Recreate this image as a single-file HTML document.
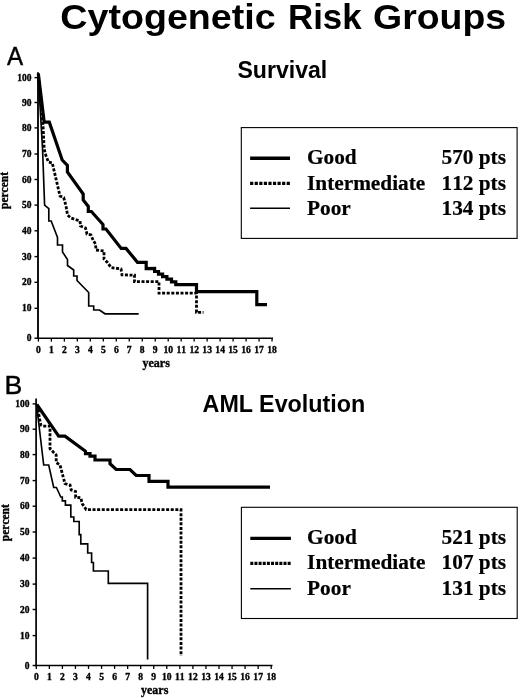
<!DOCTYPE html>
<html><head><meta charset="utf-8">
<style>
html,body{margin:0;padding:0;background:#fff;}
body{width:520px;height:698px;overflow:hidden;position:relative;}
svg{position:absolute;left:0;top:0;will-change:transform;}
.sb{font-family:"Liberation Sans",sans-serif;font-weight:bold;fill:#000;}
.s{font-family:"Liberation Sans",sans-serif;fill:#000;}
.tb{font-family:"Liberation Serif",serif;font-weight:bold;fill:#000;font-kerning:none;}
.lg{stroke:#000;stroke-width:0.2px;}
.tk{stroke:#000;stroke-width:0.35px;}
</style></head><body>
<svg width="520" height="698" viewBox="0 0 520 698">
<rect width="520" height="698" fill="#fff"/>
<text id="t1a" class="sb" transform="translate(60.3,28.6) scale(1.097,1)" font-size="34.3">Cytogenetic</text>
<text id="t1b" class="sb" transform="translate(288.0,28.6) scale(1.016,1)" font-size="34.3">Risk</text>
<text id="t1c" class="sb" transform="translate(373.0,28.6) scale(1.092,1)" font-size="34.3">Groups</text>
<text id="t2" class="sb" x="237.4" y="78.4" font-size="23.1">Survival</text>
<text id="t3" class="sb" x="202.6" y="411.6" font-size="23.3">AML Evolution</text>
<text id="la" class="s" transform="translate(6.9,64.8) scale(0.96,1)" font-size="25.2" stroke="#000" stroke-width="0.4">A</text>
<text id="lb" class="s" transform="translate(4.6,393.8) scale(1.06,1)" font-size="25.2" stroke="#000" stroke-width="0.4">B</text>
<!-- chart A -->
<line x1="38.0" y1="72.3" x2="38.0" y2="338.9" stroke="#000" stroke-width="1.85"/>
<line x1="37.3" y1="338.2" x2="273.0" y2="338.2" stroke="#000" stroke-width="1.4"/>
<line x1="34.5" y1="77.6" x2="38.0" y2="77.6" stroke="#000" stroke-width="1.4"/>
<text class="tb tk" transform="translate(31.4,80.6) scale(0.99,1)" font-size="9.6" text-anchor="end">100</text>
<line x1="34.5" y1="102.5" x2="38.0" y2="102.5" stroke="#000" stroke-width="1.4"/>
<text class="tb tk" transform="translate(31.4,105.5) scale(0.99,1)" font-size="9.6" text-anchor="end">90</text>
<line x1="34.5" y1="127.9" x2="38.0" y2="127.9" stroke="#000" stroke-width="1.4"/>
<text class="tb tk" transform="translate(31.4,130.9) scale(0.99,1)" font-size="9.6" text-anchor="end">80</text>
<line x1="34.5" y1="154.0" x2="38.0" y2="154.0" stroke="#000" stroke-width="1.4"/>
<text class="tb tk" transform="translate(31.4,157.0) scale(0.99,1)" font-size="9.6" text-anchor="end">70</text>
<line x1="34.5" y1="179.5" x2="38.0" y2="179.5" stroke="#000" stroke-width="1.4"/>
<text class="tb tk" transform="translate(31.4,182.5) scale(0.99,1)" font-size="9.6" text-anchor="end">60</text>
<line x1="34.5" y1="205.1" x2="38.0" y2="205.1" stroke="#000" stroke-width="1.4"/>
<text class="tb tk" transform="translate(31.4,208.1) scale(0.99,1)" font-size="9.6" text-anchor="end">50</text>
<line x1="34.5" y1="230.8" x2="38.0" y2="230.8" stroke="#000" stroke-width="1.4"/>
<text class="tb tk" transform="translate(31.4,233.8) scale(0.99,1)" font-size="9.6" text-anchor="end">40</text>
<line x1="34.5" y1="256.6" x2="38.0" y2="256.6" stroke="#000" stroke-width="1.4"/>
<text class="tb tk" transform="translate(31.4,259.6) scale(0.99,1)" font-size="9.6" text-anchor="end">30</text>
<line x1="34.5" y1="282.3" x2="38.0" y2="282.3" stroke="#000" stroke-width="1.4"/>
<text class="tb tk" transform="translate(31.4,285.3) scale(0.99,1)" font-size="9.6" text-anchor="end">20</text>
<line x1="34.5" y1="308.3" x2="38.0" y2="308.3" stroke="#000" stroke-width="1.4"/>
<text class="tb tk" transform="translate(31.4,311.3) scale(0.99,1)" font-size="9.6" text-anchor="end">10</text>
<line x1="34.5" y1="338.2" x2="38.0" y2="338.2" stroke="#000" stroke-width="1.4"/>
<text class="tb tk" transform="translate(31.4,341.2) scale(0.99,1)" font-size="9.6" text-anchor="end">0</text>
<line x1="38.40" y1="338.2" x2="38.40" y2="341.59999999999997" stroke="#000" stroke-width="1.3"/>
<text class="tb tk" transform="translate(38.40,352.5) scale(1.02,1)" font-size="9.4" text-anchor="middle">0</text>
<line x1="51.38" y1="338.2" x2="51.38" y2="341.59999999999997" stroke="#000" stroke-width="1.3"/>
<text class="tb tk" transform="translate(51.38,352.5) scale(1.02,1)" font-size="9.4" text-anchor="middle">1</text>
<line x1="64.36" y1="338.2" x2="64.36" y2="341.59999999999997" stroke="#000" stroke-width="1.3"/>
<text class="tb tk" transform="translate(64.36,352.5) scale(1.02,1)" font-size="9.4" text-anchor="middle">2</text>
<line x1="77.34" y1="338.2" x2="77.34" y2="341.59999999999997" stroke="#000" stroke-width="1.3"/>
<text class="tb tk" transform="translate(77.34,352.5) scale(1.02,1)" font-size="9.4" text-anchor="middle">3</text>
<line x1="90.32" y1="338.2" x2="90.32" y2="341.59999999999997" stroke="#000" stroke-width="1.3"/>
<text class="tb tk" transform="translate(90.32,352.5) scale(1.02,1)" font-size="9.4" text-anchor="middle">4</text>
<line x1="103.30" y1="338.2" x2="103.30" y2="341.59999999999997" stroke="#000" stroke-width="1.3"/>
<text class="tb tk" transform="translate(103.30,352.5) scale(1.02,1)" font-size="9.4" text-anchor="middle">5</text>
<line x1="116.28" y1="338.2" x2="116.28" y2="341.59999999999997" stroke="#000" stroke-width="1.3"/>
<text class="tb tk" transform="translate(116.28,352.5) scale(1.02,1)" font-size="9.4" text-anchor="middle">6</text>
<line x1="129.26" y1="338.2" x2="129.26" y2="341.59999999999997" stroke="#000" stroke-width="1.3"/>
<text class="tb tk" transform="translate(129.26,352.5) scale(1.02,1)" font-size="9.4" text-anchor="middle">7</text>
<line x1="142.24" y1="338.2" x2="142.24" y2="341.59999999999997" stroke="#000" stroke-width="1.3"/>
<text class="tb tk" transform="translate(142.24,352.5) scale(1.02,1)" font-size="9.4" text-anchor="middle">8</text>
<line x1="155.22" y1="338.2" x2="155.22" y2="341.59999999999997" stroke="#000" stroke-width="1.3"/>
<text class="tb tk" transform="translate(155.22,352.5) scale(1.02,1)" font-size="9.4" text-anchor="middle">9</text>
<line x1="168.20" y1="338.2" x2="168.20" y2="341.59999999999997" stroke="#000" stroke-width="1.3"/>
<text class="tb tk" transform="translate(168.20,352.5) scale(1.02,1)" font-size="9.4" text-anchor="middle">10</text>
<line x1="181.18" y1="338.2" x2="181.18" y2="341.59999999999997" stroke="#000" stroke-width="1.3"/>
<text class="tb tk" transform="translate(181.18,352.5) scale(1.02,1)" font-size="9.4" text-anchor="middle">11</text>
<line x1="194.16" y1="338.2" x2="194.16" y2="341.59999999999997" stroke="#000" stroke-width="1.3"/>
<text class="tb tk" transform="translate(194.16,352.5) scale(1.02,1)" font-size="9.4" text-anchor="middle">12</text>
<line x1="207.14" y1="338.2" x2="207.14" y2="341.59999999999997" stroke="#000" stroke-width="1.3"/>
<text class="tb tk" transform="translate(207.14,352.5) scale(1.02,1)" font-size="9.4" text-anchor="middle">13</text>
<line x1="220.12" y1="338.2" x2="220.12" y2="341.59999999999997" stroke="#000" stroke-width="1.3"/>
<text class="tb tk" transform="translate(220.12,352.5) scale(1.02,1)" font-size="9.4" text-anchor="middle">14</text>
<line x1="233.10" y1="338.2" x2="233.10" y2="341.59999999999997" stroke="#000" stroke-width="1.3"/>
<text class="tb tk" transform="translate(233.10,352.5) scale(1.02,1)" font-size="9.4" text-anchor="middle">15</text>
<line x1="246.08" y1="338.2" x2="246.08" y2="341.59999999999997" stroke="#000" stroke-width="1.3"/>
<text class="tb tk" transform="translate(246.08,352.5) scale(1.02,1)" font-size="9.4" text-anchor="middle">16</text>
<line x1="259.06" y1="338.2" x2="259.06" y2="341.59999999999997" stroke="#000" stroke-width="1.3"/>
<text class="tb tk" transform="translate(259.06,352.5) scale(1.02,1)" font-size="9.4" text-anchor="middle">17</text>
<line x1="272.04" y1="338.2" x2="272.04" y2="341.59999999999997" stroke="#000" stroke-width="1.3"/>
<text class="tb tk" transform="translate(272.04,352.5) scale(1.02,1)" font-size="9.4" text-anchor="middle">18</text>
<text id="ayl" class="tb tk" font-size="11.5" text-anchor="middle" transform="translate(8.2,190.5) rotate(-90)">percent</text>
<text id="axl" class="tb tk" font-size="12" x="142.5" y="366.5">years</text>
<polyline points="38.2,74 42.6,150 44.6,205 48.8,208.7 48.8,221 51.2,221 57.5,237.5 57.5,245 62.5,245 62.5,252 67.5,259.5 67.5,265.5 73.7,270 73.7,276 77,276 77,280.5 88.7,292.5 88.7,306 93.7,306 93.7,310 99.5,310 105,313.8 138.7,313.8" fill="none" stroke="#000" stroke-width="1.65" stroke-linejoin="miter"/>
<polyline points="38.5,76 43.0,125 44.2,149 45.2,153.5 48.4,162 52.3,162.9 53.7,169 60,196 63.7,197.5 66,206 67.5,215 71,218 80,221 80.5,226 85.5,228 87,234 91,235 93,240 95.5,244 96,250 104,251 104,259 107.5,262.5 111,267.5 121,269 122,274.8 134.5,275.2 134.5,281.6 159,281.6 159,293.2 196.5,293.2 196.5,312.4 203.5,312.4" fill="none" stroke="#000" stroke-width="2.8" stroke-dasharray="3.0 1.6" stroke-linejoin="miter"/>
<polyline points="38.3,73.5 44.2,122.2 49.3,122.2 62.2,160 67.4,165.5 67.4,172 83.2,194 83.2,200 88.3,206.4 88.3,211.5 91.4,211.5 103,224.5 103,229 106,229 121.2,248.4 126,248.4 137.5,262.3 146.2,262.3 146.2,268.7 154.6,268.5 154.6,271.5 158.5,271.5 158.5,274.2 162.6,274.2 162.6,276.6 166.9,276.6 166.9,279.2 171.5,279.2 171.5,281.8 175.8,281.8 175.8,284.6 196.5,284.6 196.5,291.7 256.8,291.7 256.8,304.6 267,304.6" fill="none" stroke="#000" stroke-width="3.2" stroke-linejoin="miter"/>
<rect x="241.3" y="127.6" width="275.8" height="110.8" fill="#fff" stroke="#000" stroke-width="1.1"/>
<line x1="250.1" y1="158.3" x2="290.0" y2="158.3" stroke="#000" stroke-width="3.4"/>
<text id="al0" class="tb lg" font-size="21.3" x="307.0" y="164.2">Good</text>
<text id="an0" class="tb lg" font-size="21.3" x="441.5" y="164.2">570 pts</text>
<line x1="250.1" y1="183.4" x2="290.0" y2="183.4" stroke="#000" stroke-width="3.2" stroke-dasharray="3.2 1.37"/>
<text id="al1" class="tb lg" font-size="21.3" x="307.0" y="189.6">Intermediate</text>
<text id="an1" class="tb lg" font-size="21.3" x="441.5" y="189.6">112 pts</text>
<line x1="250.1" y1="208.3" x2="290.0" y2="208.3" stroke="#000" stroke-width="1.6"/>
<text id="al2" class="tb lg" font-size="21.3" x="307.0" y="214.8">Poor</text>
<text id="an2" class="tb lg" font-size="21.3" x="441.5" y="214.8">134 pts</text>
<!-- chart B -->
<line x1="36.1" y1="398.5" x2="36.1" y2="666.2" stroke="#000" stroke-width="1.7"/>
<line x1="35.4" y1="665.5" x2="272.5" y2="665.5" stroke="#000" stroke-width="1.4"/>
<line x1="32.6" y1="403.9" x2="36.1" y2="403.9" stroke="#000" stroke-width="1.4"/>
<text class="tb tk" transform="translate(29.5,406.9) scale(0.99,1)" font-size="9.6" text-anchor="end">100</text>
<line x1="32.6" y1="429.2" x2="36.1" y2="429.2" stroke="#000" stroke-width="1.4"/>
<text class="tb tk" transform="translate(29.5,432.2) scale(0.99,1)" font-size="9.6" text-anchor="end">90</text>
<line x1="32.6" y1="454.6" x2="36.1" y2="454.6" stroke="#000" stroke-width="1.4"/>
<text class="tb tk" transform="translate(29.5,457.6) scale(0.99,1)" font-size="9.6" text-anchor="end">80</text>
<line x1="32.6" y1="480.6" x2="36.1" y2="480.6" stroke="#000" stroke-width="1.4"/>
<text class="tb tk" transform="translate(29.5,483.6) scale(0.99,1)" font-size="9.6" text-anchor="end">70</text>
<line x1="32.6" y1="506.2" x2="36.1" y2="506.2" stroke="#000" stroke-width="1.4"/>
<text class="tb tk" transform="translate(29.5,509.2) scale(0.99,1)" font-size="9.6" text-anchor="end">60</text>
<line x1="32.6" y1="532.0" x2="36.1" y2="532.0" stroke="#000" stroke-width="1.4"/>
<text class="tb tk" transform="translate(29.5,535.0) scale(0.99,1)" font-size="9.6" text-anchor="end">50</text>
<line x1="32.6" y1="558.1" x2="36.1" y2="558.1" stroke="#000" stroke-width="1.4"/>
<text class="tb tk" transform="translate(29.5,561.1) scale(0.99,1)" font-size="9.6" text-anchor="end">40</text>
<line x1="32.6" y1="584.1" x2="36.1" y2="584.1" stroke="#000" stroke-width="1.4"/>
<text class="tb tk" transform="translate(29.5,587.1) scale(0.99,1)" font-size="9.6" text-anchor="end">30</text>
<line x1="32.6" y1="609.5" x2="36.1" y2="609.5" stroke="#000" stroke-width="1.4"/>
<text class="tb tk" transform="translate(29.5,612.5) scale(0.99,1)" font-size="9.6" text-anchor="end">20</text>
<line x1="32.6" y1="635.6" x2="36.1" y2="635.6" stroke="#000" stroke-width="1.4"/>
<text class="tb tk" transform="translate(29.5,638.6) scale(0.99,1)" font-size="9.6" text-anchor="end">10</text>
<line x1="32.6" y1="665.5" x2="36.1" y2="665.5" stroke="#000" stroke-width="1.4"/>
<text class="tb tk" transform="translate(29.5,668.5) scale(0.99,1)" font-size="9.6" text-anchor="end">0</text>
<line x1="36.30" y1="665.5" x2="36.30" y2="668.9" stroke="#000" stroke-width="1.3"/>
<text class="tb tk" transform="translate(36.30,679.8) scale(1.02,1)" font-size="9.4" text-anchor="middle">0</text>
<line x1="49.35" y1="665.5" x2="49.35" y2="668.9" stroke="#000" stroke-width="1.3"/>
<text class="tb tk" transform="translate(49.35,679.8) scale(1.02,1)" font-size="9.4" text-anchor="middle">1</text>
<line x1="62.40" y1="665.5" x2="62.40" y2="668.9" stroke="#000" stroke-width="1.3"/>
<text class="tb tk" transform="translate(62.40,679.8) scale(1.02,1)" font-size="9.4" text-anchor="middle">2</text>
<line x1="75.45" y1="665.5" x2="75.45" y2="668.9" stroke="#000" stroke-width="1.3"/>
<text class="tb tk" transform="translate(75.45,679.8) scale(1.02,1)" font-size="9.4" text-anchor="middle">3</text>
<line x1="88.50" y1="665.5" x2="88.50" y2="668.9" stroke="#000" stroke-width="1.3"/>
<text class="tb tk" transform="translate(88.50,679.8) scale(1.02,1)" font-size="9.4" text-anchor="middle">4</text>
<line x1="101.55" y1="665.5" x2="101.55" y2="668.9" stroke="#000" stroke-width="1.3"/>
<text class="tb tk" transform="translate(101.55,679.8) scale(1.02,1)" font-size="9.4" text-anchor="middle">5</text>
<line x1="114.60" y1="665.5" x2="114.60" y2="668.9" stroke="#000" stroke-width="1.3"/>
<text class="tb tk" transform="translate(114.60,679.8) scale(1.02,1)" font-size="9.4" text-anchor="middle">6</text>
<line x1="127.65" y1="665.5" x2="127.65" y2="668.9" stroke="#000" stroke-width="1.3"/>
<text class="tb tk" transform="translate(127.65,679.8) scale(1.02,1)" font-size="9.4" text-anchor="middle">7</text>
<line x1="140.70" y1="665.5" x2="140.70" y2="668.9" stroke="#000" stroke-width="1.3"/>
<text class="tb tk" transform="translate(140.70,679.8) scale(1.02,1)" font-size="9.4" text-anchor="middle">8</text>
<line x1="153.75" y1="665.5" x2="153.75" y2="668.9" stroke="#000" stroke-width="1.3"/>
<text class="tb tk" transform="translate(153.75,679.8) scale(1.02,1)" font-size="9.4" text-anchor="middle">9</text>
<line x1="166.80" y1="665.5" x2="166.80" y2="668.9" stroke="#000" stroke-width="1.3"/>
<text class="tb tk" transform="translate(166.80,679.8) scale(1.02,1)" font-size="9.4" text-anchor="middle">10</text>
<line x1="179.85" y1="665.5" x2="179.85" y2="668.9" stroke="#000" stroke-width="1.3"/>
<text class="tb tk" transform="translate(179.85,679.8) scale(1.02,1)" font-size="9.4" text-anchor="middle">11</text>
<line x1="192.90" y1="665.5" x2="192.90" y2="668.9" stroke="#000" stroke-width="1.3"/>
<text class="tb tk" transform="translate(192.90,679.8) scale(1.02,1)" font-size="9.4" text-anchor="middle">12</text>
<line x1="205.95" y1="665.5" x2="205.95" y2="668.9" stroke="#000" stroke-width="1.3"/>
<text class="tb tk" transform="translate(205.95,679.8) scale(1.02,1)" font-size="9.4" text-anchor="middle">13</text>
<line x1="219.00" y1="665.5" x2="219.00" y2="668.9" stroke="#000" stroke-width="1.3"/>
<text class="tb tk" transform="translate(219.00,679.8) scale(1.02,1)" font-size="9.4" text-anchor="middle">14</text>
<line x1="232.05" y1="665.5" x2="232.05" y2="668.9" stroke="#000" stroke-width="1.3"/>
<text class="tb tk" transform="translate(232.05,679.8) scale(1.02,1)" font-size="9.4" text-anchor="middle">15</text>
<line x1="245.10" y1="665.5" x2="245.10" y2="668.9" stroke="#000" stroke-width="1.3"/>
<text class="tb tk" transform="translate(245.10,679.8) scale(1.02,1)" font-size="9.4" text-anchor="middle">16</text>
<line x1="258.15" y1="665.5" x2="258.15" y2="668.9" stroke="#000" stroke-width="1.3"/>
<text class="tb tk" transform="translate(258.15,679.8) scale(1.02,1)" font-size="9.4" text-anchor="middle">17</text>
<line x1="271.20" y1="665.5" x2="271.20" y2="668.9" stroke="#000" stroke-width="1.3"/>
<text class="tb tk" transform="translate(271.20,679.8) scale(1.02,1)" font-size="9.4" text-anchor="middle">18</text>
<text id="byl" class="tb tk" font-size="11.5" text-anchor="middle" transform="translate(8.5,522.7) rotate(-90)">percent</text>
<text id="bxl" class="tb tk" font-size="12" x="141" y="693.5">years</text>
<polyline points="36.6,405 43.7,465 48.7,465 53.7,487.5 56.4,487.5 60.8,497 62.3,497 62.3,500.8 65.4,500.8 65.4,505.1 70.8,505.1 70.8,517 73.8,517 73.8,521.5 79.2,521.5 79.2,534.6 80.8,534.6 80.8,543.8 87.7,543.8 87.7,553 91.6,553 91.6,562.5 93.4,562.5 93.4,571 108.3,571 108.3,583.3 147.6,583.3 147.6,659.4" fill="none" stroke="#000" stroke-width="1.65" stroke-linejoin="miter"/>
<polyline points="37.2,405 39.6,419 40.9,425 43,426.2 50,426.2 50,448.7 56.2,455 56.2,462.5 60,465 65,483.7 70,485 71.2,490 75.6,491.5 75.6,497.3 80.8,497.8 82.3,503.8 86.2,509.6 181,509.6 181,656" fill="none" stroke="#000" stroke-width="2.8" stroke-dasharray="3.0 1.6" stroke-linejoin="miter"/>
<polyline points="36.8,404.5 58.7,436.2 65,436.2 85.5,451.2 85.5,453.7 90,453.7 90,456.2 95,456.2 95,460 110,460 110,463.7 116.2,469.5 130,469.5 136.2,475.5 149,475.5 149,481.4 168,481.4 168,487.2 270,487.2" fill="none" stroke="#000" stroke-width="3.2" stroke-linejoin="miter"/>
<rect x="241.4" y="507.3" width="275.8" height="111.2" fill="#fff" stroke="#000" stroke-width="1.1"/>
<line x1="250.3" y1="538.4" x2="290.9" y2="538.4" stroke="#000" stroke-width="3.4"/>
<text id="bl0" class="tb lg" font-size="21.3" x="307.1" y="543.8">Good</text>
<text id="bn0" class="tb lg" font-size="21.3" x="441.6" y="543.8">521 pts</text>
<line x1="250.3" y1="563.3" x2="290.9" y2="563.3" stroke="#000" stroke-width="3.2" stroke-dasharray="3.0 1.15"/>
<text id="bl1" class="tb lg" font-size="21.3" x="307.1" y="569.4">Intermediate</text>
<text id="bn1" class="tb lg" font-size="21.3" x="441.6" y="569.4">107 pts</text>
<line x1="250.3" y1="588.7" x2="290.9" y2="588.7" stroke="#000" stroke-width="1.6"/>
<text id="bl2" class="tb lg" font-size="21.3" x="307.1" y="594.7">Poor</text>
<text id="bn2" class="tb lg" font-size="21.3" x="441.6" y="594.7">131 pts</text>
</svg>
</body></html>
